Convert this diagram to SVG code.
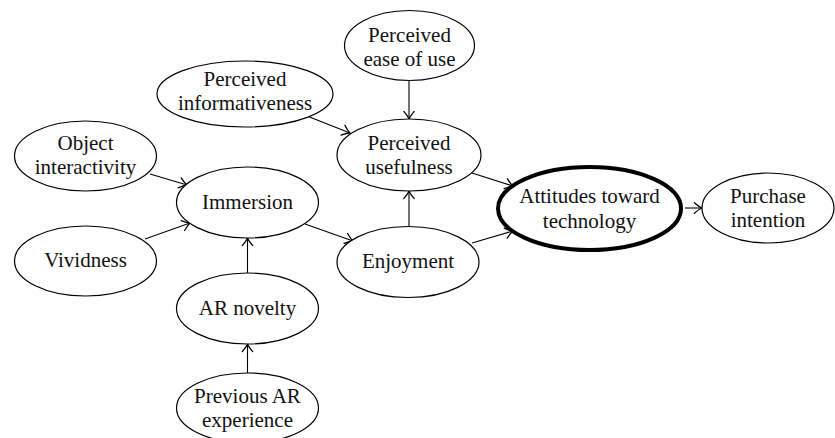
<svg xmlns="http://www.w3.org/2000/svg" width="835" height="438" viewBox="0 0 835 438">
  <defs>
    <marker id="arr" markerUnits="userSpaceOnUse" markerWidth="14" markerHeight="14" viewBox="-8 -6 10 12" refX="0" refY="0" orient="auto">
      <path d="M -6.5 -4.5 Q -2.5 -1 0 0 Q -2.5 1 -6.5 4.5" fill="none" stroke="#000" stroke-width="1.1" stroke-linecap="round"/>
    </marker>
  </defs>
  <style>
    .node ellipse { fill: #fff; stroke: #000; stroke-width: 1.2; }
    .node.key ellipse { stroke-width: 4; }
    .node text { font-family: "Liberation Serif", "Times New Roman", serif; font-size: 21px; fill: #111; text-anchor: middle; }
    .edges line { stroke: #000; stroke-width: 1.1; fill: none; marker-end: url(#arr); }
  </style>
  <rect width="835" height="438" fill="#fff"/>

  <!-- connectors -->
  <g class="edges">
    <line x1="150" y1="174" x2="187" y2="185"/>
    <line x1="145" y1="239" x2="190" y2="223"/>
    <line x1="307" y1="116" x2="350" y2="133"/>
    <line x1="409" y1="81" x2="409" y2="119"/>
    <line x1="247.5" y1="273" x2="247.5" y2="238"/>
    <line x1="247.5" y1="373" x2="247.5" y2="344"/>
    <line x1="305" y1="224" x2="353" y2="241"/>
    <line x1="409" y1="226" x2="409" y2="191"/>
    <line x1="472" y1="173" x2="513" y2="186"/>
    <line x1="472" y1="243" x2="513" y2="231"/>
    <line x1="685" y1="208" x2="702" y2="208"/>
  </g>

  <!-- nodes -->
  <g id="ease-of-use" class="node">
    <ellipse cx="409.5" cy="45.5" rx="65" ry="35"/>
    <text x="409.5" y="42">Perceived</text>
    <text x="409.5" y="66">ease of use</text>
  </g>
  <g id="informativeness" class="node">
    <ellipse cx="245" cy="94" rx="88" ry="33"/>
    <text x="245" y="86">Perceived</text>
    <text x="245" y="110">informativeness</text>
  </g>
  <g id="usefulness" class="node">
    <ellipse cx="409" cy="155" rx="72" ry="36"/>
    <text x="409" y="150">Perceived</text>
    <text x="409" y="174">usefulness</text>
  </g>
  <g id="object-interactivity" class="node">
    <ellipse cx="85.5" cy="156" rx="71" ry="35"/>
    <text x="85.5" y="150">Object</text>
    <text x="85.5" y="174">interactivity</text>
  </g>
  <g id="vividness" class="node">
    <ellipse cx="85.5" cy="261" rx="71" ry="35"/>
    <text x="85.5" y="267">Vividness</text>
  </g>
  <g id="immersion" class="node">
    <ellipse cx="247.5" cy="202.5" rx="71" ry="35.5"/>
    <text x="247.5" y="209">Immersion</text>
  </g>
  <g id="ar-novelty" class="node">
    <ellipse cx="247.5" cy="308.5" rx="71" ry="35.5"/>
    <text x="247.5" y="315">AR novelty</text>
  </g>
  <g id="previous-ar" class="node">
    <ellipse cx="247.5" cy="408" rx="71" ry="35"/>
    <text x="247.5" y="403">Previous AR</text>
    <text x="247.5" y="427">experience</text>
  </g>
  <g id="enjoyment" class="node">
    <ellipse cx="408" cy="262" rx="71" ry="35.5"/>
    <text x="408" y="268">Enjoyment</text>
  </g>
  <g id="attitudes" class="node key">
    <ellipse cx="589.5" cy="208.5" rx="91.5" ry="41.5"/>
    <text x="589.5" y="203">Attitudes toward</text>
    <text x="589.5" y="228">technology</text>
  </g>
  <g id="purchase-intention" class="node">
    <ellipse cx="768" cy="208" rx="66" ry="35"/>
    <text x="768" y="203">Purchase</text>
    <text x="768" y="227">intention</text>
  </g>
</svg>
